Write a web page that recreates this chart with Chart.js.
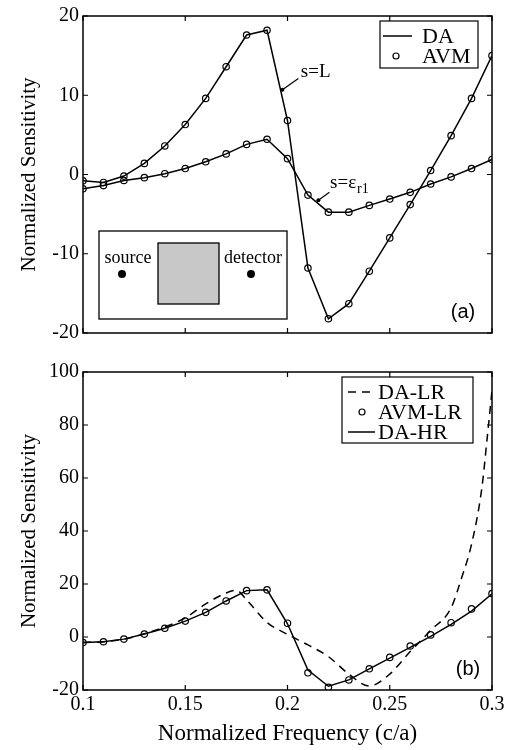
<!DOCTYPE html>
<html><head><meta charset="utf-8">
<script src="https://cdn.jsdelivr.net/npm/chart.js@4.4.0/dist/chart.umd.min.js"></script>
<style>
html,body{margin:0;padding:0;background:#fff;}
#wrap{position:relative;width:520px;height:750px;background:#fff;}
canvas{position:absolute;left:0;}
</style></head><body>
<div id="wrap">
<canvas id="cTop" width="520" height="350" style="top:0px"></canvas>
<canvas id="cBot" width="520" height="400" style="top:350px"></canvas>
</div>
<script>
// ---------- data ----------
const freq = [0.10,0.11,0.12,0.13,0.14,0.15,0.16,0.17,0.18,0.19,0.20,0.21,0.22,0.23,0.24,0.25,0.26,0.27,0.28,0.29,0.30];
// panel (a): s = L
const daL  = [-0.8,-1.0,-0.2,1.4,3.6,6.3,9.6,13.6,17.6,18.2,6.8,-11.8,-18.2,-16.3,-12.2,-8.0,-3.8,0.5,4.9,9.6,15.0];
const avmL = [-0.8,-1.0,-0.2,1.4,3.6,6.3,9.6,13.6,17.6,18.2,6.8,-11.8,-18.2,-16.3,-12.2,-8.0,-3.8,0.5,4.9,9.6,15.0];
// panel (a): s = eps_r1
const daE  = [-1.8,-1.4,-0.75,-0.4,0.1,0.75,1.6,2.6,3.8,4.45,2.0,-2.6,-4.75,-4.75,-3.9,-3.1,-2.25,-1.2,-0.3,0.75,1.9];
const avmE = [-1.8,-1.4,-0.75,-0.4,0.1,0.75,1.6,2.6,3.8,4.45,2.0,-2.6,-4.75,-4.75,-3.9,-3.1,-2.25,-1.2,-0.3,0.75,1.9];
// panel (b)
const daHR  = [-2.1,-1.8,-0.8,1.1,3.3,6.0,9.3,13.6,17.5,17.8,5.0,-12.5,-18.6,-16.2,-12.0,-8.0,-3.9,0.2,4.8,9.8,16.3];
const avmLR = [-2.1,-1.8,-0.8,1.1,3.3,6.0,9.3,13.6,17.5,17.8,5.2,-13.5,-19.0,-16.2,-12.0,-7.7,-3.4,0.8,5.4,10.6,16.4];
const lrFreq = [0.10,0.11,0.12,0.13,0.14,0.15,0.16,0.17,0.175,0.18,0.19,0.20,0.21,0.22,0.23,0.24,0.25,0.26,0.27,0.28,0.285,0.29,0.295,0.2975,0.30];
const daLR   = [-2.1,-1.8,-0.8,1.2,3.8,7.2,12.5,16.6,17.6,14.0,5.5,1.0,-3.0,-7.4,-14.0,-18.5,-14.0,-5.5,2.5,11.0,22.0,35.0,56.0,74.0,93.0];
// ticks
const xTickVals = [0.1,0.15,0.2,0.25,0.3];
const xTickLabels = ['0.1','0.15','0.2','0.25','0.3'];
const yTicksTop = [-20,-10,0,10,20];
const yTicksBot = [-20,0,20,40,60,80,100];
const legendTop = ['DA','AVM'];
const legendBot = ['DA-LR','AVM-LR','DA-HR'];

// ---------- helpers ----------
const SERIF = '"Liberation Serif","Times New Roman",serif';
const SANS = '"Liberation Sans",Arial,sans-serif';
const pts = (xs, ys) => xs.map((v,i)=>({x:v, y:ys[i]}));

const frame = {
  id:'frame',
  afterDatasetsDraw(chart){
    const {ctx, chartArea:a, scales:{x,y}} = chart;
    ctx.save();
    ctx.strokeStyle='#000'; ctx.lineWidth=1.5;
    ctx.strokeRect(a.left,a.top,a.right-a.left,a.bottom-a.top);
    ctx.lineWidth=1.2; ctx.beginPath();
    const L=5;
    x.ticks.forEach(t=>{const p=x.getPixelForValue(t.value);
      ctx.moveTo(p,a.bottom); ctx.lineTo(p,a.bottom-L); ctx.moveTo(p,a.top); ctx.lineTo(p,a.top+L);});
    y.ticks.forEach(t=>{const p=y.getPixelForValue(t.value);
      ctx.moveTo(a.left,p); ctx.lineTo(a.left+L,p); ctx.moveTo(a.right,p); ctx.lineTo(a.right-L,p);});
    ctx.stroke(); ctx.restore();
  }
};

function scalesCfg(yMin,yMax,yTicks,showX,xh){
  return {
    x:{type:'linear',min:0.1,max:0.3,
      afterBuildTicks:s=>{s.ticks=xTickVals.map(v=>({value:v}));},
      afterFit:s=>{s.height=xh;},
      grid:{display:false,drawTicks:false},border:{display:false},
      ticks:{display:showX,padding:3,color:'#000',maxRotation:0,autoSkip:false,
        font:{family:SERIF,size:20},
        callback:(v)=>xTickLabels[xTickVals.findIndex(t=>Math.abs(t-v)<1e-9)]},
      title:{display:showX,text:'Normalized Frequency (c/a)',color:'#000',
        font:{family:SERIF,size:23},padding:{top:0,bottom:2}}
    },
    y:{type:'linear',min:yMin,max:yMax,
      afterBuildTicks:s=>{s.ticks=yTicks.map(v=>({value:v}));},
      afterFit:s=>{s.width=83;},
      grid:{display:false,drawTicks:false},border:{display:false},
      ticks:{padding:4,color:'#000',font:{family:SERIF,size:20},callback:v=>String(v)},
      title:{display:true,text:'Normalized Sensitivity',color:'#000',
        font:{family:SERIF,size:21},padding:{top:17,bottom:0}}
    }
  };
}

function arrowTo(ctx,x0,y0,x1,y1){
  ctx.beginPath(); ctx.moveTo(x0,y0); ctx.lineTo(x1,y1); ctx.stroke();
  ctx.beginPath(); ctx.arc(x1,y1,2,0,2*Math.PI); ctx.fill();
}

const annotTop = {
  id:'annotTop',
  afterDraw(chart){
    const {ctx, chartArea:a, scales:{x,y}} = chart;
    ctx.save();
    ctx.fillStyle='#000'; ctx.strokeStyle='#000';
    // legend
    const lx=a.right-112, ly=a.top+5, lw=98, lh=47;
    ctx.fillStyle='#fff'; ctx.fillRect(lx,ly,lw,lh);
    ctx.lineWidth=1.2; ctx.strokeRect(lx,ly,lw,lh);
    ctx.fillStyle='#000';
    ctx.font='22px '+SERIF; ctx.textBaseline='middle'; ctx.textAlign='left';
    ctx.lineWidth=1.5; ctx.beginPath(); ctx.moveTo(lx+3,ly+15); ctx.lineTo(lx+32,ly+15); ctx.stroke();
    ctx.fillText(legendTop[0], lx+42, ly+16);
    ctx.lineWidth=1.2; ctx.beginPath(); ctx.arc(lx+16,ly+35,3,0,2*Math.PI); ctx.stroke();
    ctx.fillText(legendTop[1], lx+42, ly+36);
    // inset
    const ix=a.left+16, iy=a.bottom-102, iw=188, ih=88;
    ctx.fillStyle='#fff'; ctx.fillRect(ix,iy,iw,ih);
    ctx.lineWidth=1.3; ctx.strokeRect(ix,iy,iw,ih);
    ctx.fillStyle='#c8c8c8'; ctx.fillRect(ix+59,iy+12,61,61);
    ctx.strokeRect(ix+59,iy+12,61,61);
    ctx.fillStyle='#000'; ctx.font='18px '+SERIF; ctx.textAlign='center';
    ctx.fillText('source', ix+29, iy+27);
    ctx.fillText('detector', ix+154, iy+27);
    ctx.beginPath(); ctx.arc(ix+23,iy+43,4,0,2*Math.PI); ctx.fill();
    ctx.beginPath(); ctx.arc(ix+152,iy+43,4,0,2*Math.PI); ctx.fill();
    // curve labels
    ctx.lineWidth=1.2;
    ctx.font='19px '+SERIF; ctx.textAlign='left';
    ctx.fillText('s=L', x.getPixelForValue(0.2065), y.getPixelForValue(12.9));
    arrowTo(ctx, x.getPixelForValue(0.2053), y.getPixelForValue(12.1), x.getPixelForValue(0.1975), y.getPixelForValue(10.7));
    const ex=x.getPixelForValue(0.2208), ey=y.getPixelForValue(-1.1);
    ctx.fillText('s=\u03b5', ex, ey);
    const w=ctx.measureText('s=\u03b5').width;
    ctx.font='14px '+SERIF; ctx.fillText('r1', ex+w+1, ey+6);
    arrowTo(ctx, x.getPixelForValue(0.2205), y.getPixelForValue(-2.25), x.getPixelForValue(0.2151), y.getPixelForValue(-3.25));
    // panel letter
    ctx.font='20px '+SANS; ctx.textAlign='center';
    ctx.fillText('(a)', a.right-29, a.bottom-21);
    ctx.restore();
  }
};

const annotBot = {
  id:'annotBot',
  afterDraw(chart){
    const {ctx, chartArea:a} = chart;
    ctx.save();
    const lx=a.right-150, ly=a.top+5, lw=131, lh=66;
    ctx.fillStyle='#fff'; ctx.fillRect(lx,ly,lw,lh);
    ctx.strokeStyle='#000'; ctx.lineWidth=1.2; ctx.strokeRect(lx,ly,lw,lh);
    ctx.fillStyle='#000'; ctx.font='22px '+SERIF; ctx.textBaseline='middle'; ctx.textAlign='left';
    ctx.lineWidth=1.5;
    ctx.setLineDash([8,6]); ctx.beginPath(); ctx.moveTo(lx+6,ly+15); ctx.lineTo(lx+32,ly+15); ctx.stroke();
    ctx.setLineDash([]);
    ctx.fillText(legendBot[0], lx+36, ly+16);
    ctx.lineWidth=1.2; ctx.beginPath(); ctx.arc(lx+20,ly+35,3,0,2*Math.PI); ctx.stroke();
    ctx.fillText(legendBot[1], lx+36, ly+36);
    ctx.lineWidth=1.5; ctx.beginPath(); ctx.moveTo(lx+6,ly+55); ctx.lineTo(lx+33,ly+55); ctx.stroke();
    ctx.fillText(legendBot[2], lx+36, ly+56);
    ctx.font='20px '+SANS; ctx.textAlign='center';
    ctx.fillText('(b)', a.right-24, a.bottom-21);
    ctx.restore();
  }
};

const common = {responsive:false, animation:false, events:[], devicePixelRatio:1};
const lineDs = (label,data,extra)=>Object.assign({label,data,borderColor:'#000',borderWidth:1.5,pointRadius:0,fill:false,tension:0},extra||{});
const ptDs = (label,data)=>({label,data,showLine:false,pointRadius:3.2,pointBorderWidth:1.2,pointBorderColor:'#000',pointBackgroundColor:'rgba(0,0,0,0)',borderColor:'#000',backgroundColor:'rgba(0,0,0,0)'});

new Chart(document.getElementById('cTop'),{
  type:'line',
  data:{datasets:[
    lineDs('DA',pts(freq,daL)),
    lineDs('DA',pts(freq,daE)),
    ptDs('AVM',pts(freq,avmL)),
    ptDs('AVM',pts(freq,avmE))
  ]},
  options:Object.assign({},common,{
    layout:{padding:{left:0,right:28,top:13,bottom:0}},
    scales:scalesCfg(-20,20,yTicksTop,false,17),
    plugins:{legend:{display:false},tooltip:{enabled:false}}
  }),
  plugins:[frame,annotTop]
});

new Chart(document.getElementById('cBot'),{
  type:'line',
  data:{datasets:[
    lineDs('DA-LR',pts(lrFreq,daLR),{borderDash:[8,6],cubicInterpolationMode:'monotone'}),
    ptDs('AVM-LR',pts(freq,avmLR)),
    lineDs('DA-HR',pts(freq,daHR))
  ]},
  options:Object.assign({},common,{
    layout:{padding:{left:0,right:28,top:22,bottom:0}},
    scales:scalesCfg(-20,100,yTicksBot,true,60),
    plugins:{legend:{display:false},tooltip:{enabled:false}}
  }),
  plugins:[frame,annotBot]
});
</script>
</body></html>
